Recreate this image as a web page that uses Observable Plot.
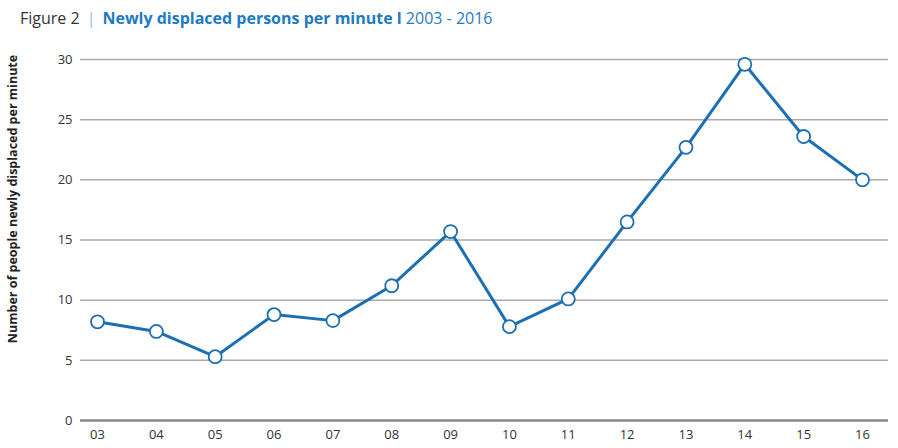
<!DOCTYPE html>
<html>
<head>
<meta charset="utf-8">
<script src="https://cdn.jsdelivr.net/npm/d3@7"></script>
<script src="https://cdn.jsdelivr.net/npm/@observablehq/plot@0.6"></script>
<style>
  body { margin: 0; background: #fff; font-family: "Open Sans", sans-serif; }
  #title { height: 40px; box-sizing: border-box; padding: 7px 0 0 20px; font-size: 16px; color: #333; white-space: nowrap; }
  #title .sep { color: #8ec3e8; margin: 0 7px; }
  #title .main { color: #1f7bc1; font-weight: 700; }
  #title .years { color: #1f7bc1; }
</style>
</head>
<body>
<div id="title">Figure 2<span class="sep">|</span><span class="main">Newly displaced persons per minute l</span> <span class="years">2003 - 2016</span></div>
<div id="chart"></div>
<script>
const years = [2003, 2004, 2005, 2006, 2007, 2008, 2009, 2010, 2011, 2012, 2013, 2014, 2015, 2016];
const values = [8.2, 7.4, 5.3, 8.8, 8.3, 11.2, 15.7, 7.8, 10.1, 16.5, 22.7, 29.6, 23.6, 20.0];
const yTicks = [0, 5, 10, 15, 20, 25, 30];
const yLabel = "Number of people newly displaced per minute";

const data = years.map((y, i) => ({year: y, value: values[i]}));
const blue = "#1c6fb3";

const chart = Plot.plot({
  width: 898,
  height: 408,
  marginTop: 19,
  marginBottom: 28,
  marginLeft: 80,
  marginRight: 10,
  style: {fontFamily: "Open Sans, sans-serif", fontSize: "13px", color: "#333"},
  x: {type: "linear", domain: [2003, 2016], range: [97, 862], label: null},
  y: {domain: [0, 30], label: null},
  marks: [
    Plot.ruleY(yTicks.filter(d => d > 0), {stroke: "#aaa", strokeWidth: 1.5}),
    Plot.ruleY([0], {stroke: "#888", strokeWidth: 2.5}),
    Plot.axisY({ticks: yTicks, tickSize: 0, tickPadding: 8, label: null, fontSize: 13}),
    Plot.axisX({ticks: years, tickFormat: d => String(d).slice(2), tickSize: 0, tickPadding: 9, label: null, fontSize: 13}),
    Plot.text([yLabel], {frameAnchor: "left", textAnchor: "middle", dx: -68, dy: -41, rotate: -90, fontWeight: "bold", fontSize: 12.5, fill: "#222"}),
    Plot.line(data, {x: "year", y: "value", stroke: blue, strokeWidth: 3}),
    Plot.dot(data, {x: "year", y: "value", r: 6.5, fill: "white", stroke: blue, strokeWidth: 1.8})
  ]
});
document.getElementById("chart").append(chart);
</script>
</body>
</html>
